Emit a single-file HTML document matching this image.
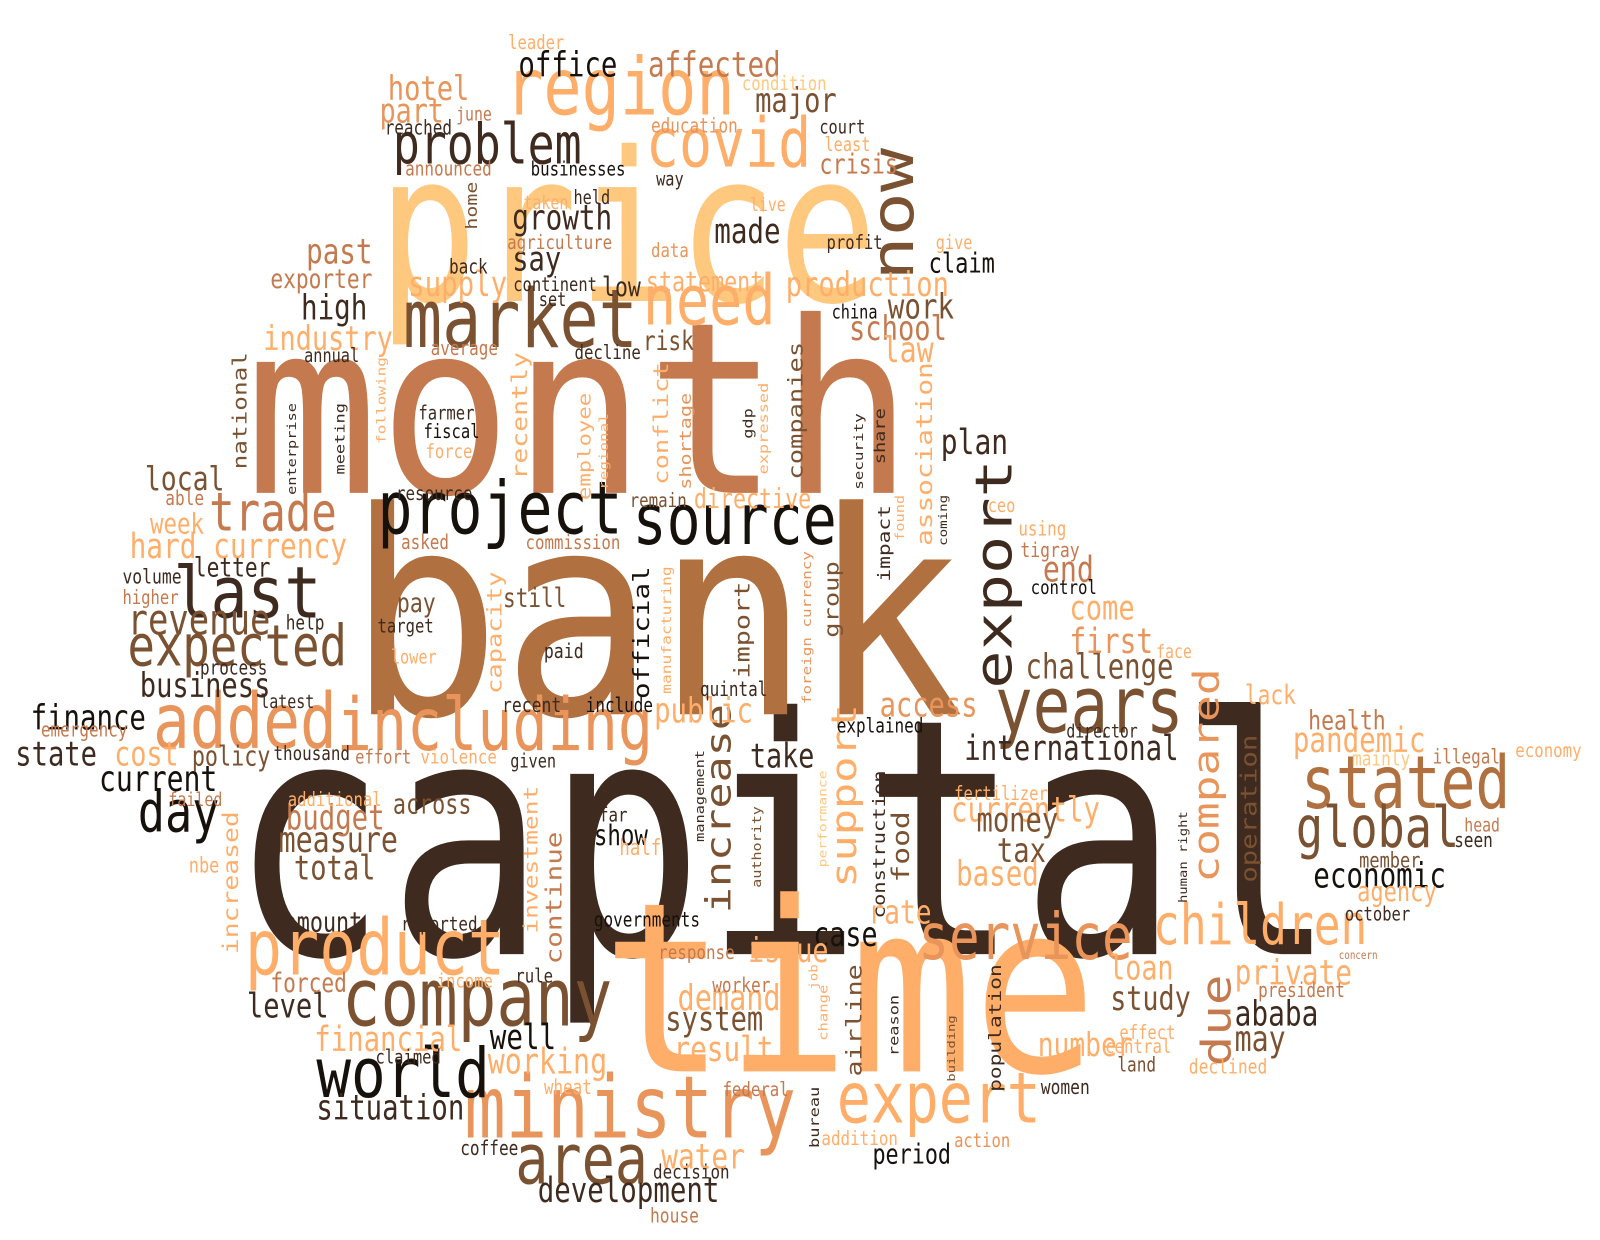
<!DOCTYPE html>
<html><head><meta charset="utf-8"><style>
html,body{margin:0;padding:0;background:#fff;}
svg{display:block;}
text{font-family:"DejaVu Sans Mono","Liberation Mono",monospace;}
</style></head>
<body>
<svg width="1600" height="1240" viewBox="0 0 1600 1240" xmlns="http://www.w3.org/2000/svg">
<rect width="1600" height="1240" fill="#fff"/>
<g id="cloud" transform="scale(1.0204)"></g>
</svg>
<script>
const L1="#FFC87F",L2="#FFAE6A",M1="#E8945A",M2="#C47A4E",M3="#B0703F",D1="#7A5232",D2="#3E2A1E",K="#17110C";
// [word, x (left / right edge if vertical), y (baseline / bottom if vertical), extent, vertical, color, height factor]
const words=[
["capital",225,935,1085,0,D2],["bank",340,700,605,0,M3,0.88],["time",590,1050,485,0,L2,0.92],["price",370,295,490,0,L1],
["month",240,483,655,0,M2,0.86],["project",370,523,240,0,K],["source",620,533,200,0,K],["last",170,605,145,0,D2,0.93],
["market",395,340,230,0,D1],["region",495,112,225,0,L2],["covid",633,163,162,0,L2],["problem",385,160,185,0,D2],
["need",630,318,130,0,L2],["now",905,275,130,1,D1],["export",1000,675,225,1,D2],["years",975,718,185,0,D1],
["stated",1275,792,205,0,M3],["global",1270,830,160,0,D1],["children",1130,925,210,0,L2],["due",1213,1045,90,1,M2],
["compared",1200,865,210,1,M1],["service",900,940,210,0,M1],["expert",820,1100,200,0,L2],["support",845,870,180,1,L2],
["increase",722,895,205,1,D1],["ministry",455,1115,325,0,M1],["area",505,1160,130,0,D1],["world",310,1075,170,0,K,0.95],
["company",335,1005,265,0,D1],["product",240,955,255,0,L2],["added",150,733,180,0,M1],["including",330,735,310,0,M1],
["expected",125,652,215,0,D1],["trade",205,520,125,0,M2],["day",135,815,80,0,K],["finance",30,715,113,0,K],
["state",15,750,80,0,D2],["current",97,775,116,0,K],["business",137,683,128,0,D2],["revenue",125,622,140,0,D1],
["hard currency",127,547,213,0,L2],["week",147,523,53,0,L2],["local",142,480,78,0,D1],["national",245,460,115,1,D1],
["past",300,258,65,0,M2],["exporter",265,282,100,0,M2],["industry",258,343,127,0,L2],["high",295,313,65,0,D2],
["supply",400,290,97,0,L2],["say",502,265,48,0,D2],["growth",502,225,98,0,D2],["made",700,238,65,0,D2],
["hotel",380,98,80,0,M1],["part",372,120,63,0,M1],["office",508,75,97,0,K],["affected",635,75,130,0,M2],
["major",740,110,80,0,D1],["crisis",803,170,77,0,M2],["statement",633,285,115,0,L2],["production",770,290,160,0,L2],
["work",870,312,65,0,D1],["school",832,333,96,0,M2],["law",865,355,50,0,L2],["claim",910,267,65,0,K],
["plan",922,445,66,0,D2],["association",917,535,180,1,L2],["companies",790,470,135,1,D1],["low",590,290,38,0,D2],
["risk",630,343,50,0,D1],["conflict",658,475,120,1,L2],["shortage",680,480,95,1,M1],["recently",520,470,125,1,L2],
["employee",582,490,105,1,L2],["directive",680,498,115,0,L2],["capacity",495,680,120,1,L2],["official",640,685,130,1,K],
["import",738,665,95,1,D1],["group",825,625,75,1,D1],["impact",875,570,75,1,D2],["share",870,455,55,1,D2],
["meeting",340,465,70,1,D2],["still",493,595,62,0,D1],["pay",389,600,38,0,D1],["letter",190,565,75,0,D2],
["public",641,708,97,0,L2],["access",862,702,96,0,M1],["challenge",1005,665,145,0,D1],["first",1048,640,82,0,M1],
["come",1048,607,64,0,L2],["end",1022,570,50,0,M2],["international",945,745,210,0,D2],["take",735,752,63,0,D2],
["currently",932,805,146,0,L2],["money",957,815,80,0,D1],["tax",977,845,48,0,D1],["based",937,868,81,0,L2],
["economic",1287,870,130,0,K],["operation",1235,865,145,1,D1],["rate",851,905,62,0,L2],["case",797,927,63,0,K],
["food",895,865,70,1,D1],["construction",870,900,145,1,D2],["airline",848,1055,110,1,D1],["issue",733,943,79,0,L2],
["demand",664,990,101,0,L2],["system",652,1010,96,0,D1],["result",660,1040,98,0,L2],["water",648,1145,82,0,L2],
["development",527,1178,178,0,D2],["working",478,1052,117,0,L2],["well",480,1028,65,0,K],["financial",308,1030,145,0,L2],
["situation",310,1097,145,0,D2],["level",242,997,80,0,D2],["forced",265,972,75,0,M2],["amount",278,913,77,0,D2],
["total",288,862,80,0,D1],["measure",273,835,117,0,D1],["budget",280,813,97,0,M2],["across",385,797,77,0,D1],
["policy",188,750,77,0,D1],["cost",112,750,63,0,L2],["investment",530,915,145,1,L2],["continue",554,945,130,1,M2],
["increased",237,935,140,1,L2],["show",582,828,53,0,K],["loan",1087,960,63,0,L2],["study",1088,990,79,0,D1],
["private",1210,965,115,0,L2],["ababa",1210,1005,82,0,D2],["may",1210,1030,50,0,D1],["number",1017,1035,93,0,L2],
["population",984,1070,125,1,D2],["pandemic",1267,737,130,0,L2],["health",1282,715,76,0,M2],["lack",1220,690,50,0,L2],
["agency",1330,883,78,0,L2],["period",855,1140,77,0,K],
["leader",498,48,55,0,L2],["condition",727,88,83,0,L1],["june",447,118,35,0,M2],["reached",377,132,66,0,D2],
["education",638,130,85,0,M1],["court",803,131,45,0,D2],["least",808,148,45,0,L2],["announced",397,172,85,0,M2],
["businesses",520,172,93,0,K],["way",643,182,27,0,D2],["held",562,200,36,0,D2],["taken",513,205,44,0,L2],
["live",735,207,35,0,L2],["agriculture",497,244,103,0,M2],["data",638,252,37,0,M1],["profit",810,244,55,0,D2],
["give",917,244,36,0,L2],["home",470,225,47,1,D1],["back",440,268,38,0,D2],["continent",503,285,82,0,D2],
["set",528,300,27,0,D2],["china",815,312,45,0,K],["annual",298,355,54,0,D2],["average",422,348,66,0,M2],
["decline",563,352,65,0,D2],["following",380,435,85,1,L2],["farmer",410,411,55,0,D2],["fiscal",415,429,55,0,K],
["force",417,449,46,0,L2],["enterprise",292,485,90,1,D2],["regional",598,480,75,1,L2],["gdp",740,430,30,1,D2],
["expressed",755,465,90,1,L2],["security",848,480,75,1,D2],["found",888,530,45,1,L2],["coming",930,535,50,1,D2],
["resource",388,490,75,0,D2],["able",162,495,38,0,M2],["remain",617,497,56,0,D1],["ceo",968,502,27,0,L2],
["using",998,525,47,0,L2],["asked",393,538,47,0,M2],["commission",515,538,93,0,M2],["tigray",1000,546,58,0,M2],
["volume",120,572,58,0,D2],["higher",120,592,55,0,M2],["control",1010,582,65,0,K],["help",280,617,38,0,D2],
["target",370,620,55,0,D2],["foreign currency",797,690,150,1,M1],["manufacturing",660,680,125,1,L2],["process",196,661,66,0,D2],
["lower",383,650,45,0,L2],["paid",533,645,39,0,D2],["face",1133,645,35,0,L2],["quintal",686,682,66,0,D2],
["recent",492,698,58,0,D2],["include",574,698,66,0,K],["latest",255,694,53,0,D2],["emergency",40,722,85,0,M2],
["explained",820,718,85,0,K],["director",1045,723,70,0,D2],["effort",348,748,55,0,M2],["thousand",268,745,75,0,D2],
["violence",412,748,75,0,L2],["given",500,752,45,0,D2],["mainly",1325,750,57,0,L1],["illegal",1404,748,66,0,M2],
["economy",1485,742,65,0,L2],["fertilizer",935,784,92,0,L2],["failed",165,790,53,0,M2],["additional",282,790,92,0,L2],
["far",587,805,28,0,D2],["half",607,838,41,0,L2],["authority",748,870,80,1,D1],["performance",812,850,95,1,L1],
["management",692,825,90,1,D2],["human right",1165,885,90,1,D2],["head",1435,815,35,0,M2],["seen",1425,830,38,0,D2],
["nbe",185,855,30,0,L2],["governments",582,908,104,0,K],["reported",393,912,75,0,D2],["member",1332,850,60,0,D1],
["october",1318,902,64,0,D2],["concern",1312,940,38,0,M2],["response",645,940,75,0,M2],["job",803,970,25,1,L2],
["change",813,1020,55,1,L2],["worker",698,972,57,0,M2],["income",428,968,55,0,L2],["president",1233,977,85,0,M2],
["rule",505,963,37,0,D2],["reason",883,1035,60,1,D2],["building",938,1060,65,1,D1],["central",1083,1032,65,0,L2],
["effect",1097,1018,55,0,L2],["land",1095,1050,38,0,D1],["declined",1165,1052,77,0,L2],["claimed",368,1042,64,0,D2],
["wheat",533,1072,47,0,L2],["federal",708,1074,65,0,M2],["women",1020,1072,48,0,D2],["bureau",805,1125,60,1,D2],
["addition",805,1122,75,0,L2],["action",935,1124,55,0,M1],["coffee",451,1132,57,0,D2],["decision",640,1155,75,0,D2],
["house",637,1198,48,0,M2]
];
const svg=document.getElementById('cloud');
const NS="http://www.w3.org/2000/svg";
for(const w of words){
  const [txt,x,y,ext,vert,col]=w;
  const hf=w.length>6?w[6]:1;
  const n=txt.length;
  const t=document.createElementNS(NS,'text');
  t.textContent=txt;
  t.setAttribute('fill',col);
  t.setAttribute('textLength',ext);
  t.setAttribute('lengthAdjust','spacingAndGlyphs');
  if(!vert){
    const fs=hf*ext/(n*0.48);
    t.setAttribute('font-size',fs.toFixed(1));
    t.setAttribute('x',x);
    t.setAttribute('y',y);
  } else {
    const fs=hf*ext/(n*0.6);
    t.setAttribute('font-size',fs.toFixed(1));
    const bx=x-0.14*fs;
    t.setAttribute('x',0);
    t.setAttribute('y',0);
    t.setAttribute('transform','translate('+bx.toFixed(1)+','+y+') rotate(-90) scale(1,0.8)');
  }
  
  
  svg.appendChild(t);
}
</script>
</body></html>
